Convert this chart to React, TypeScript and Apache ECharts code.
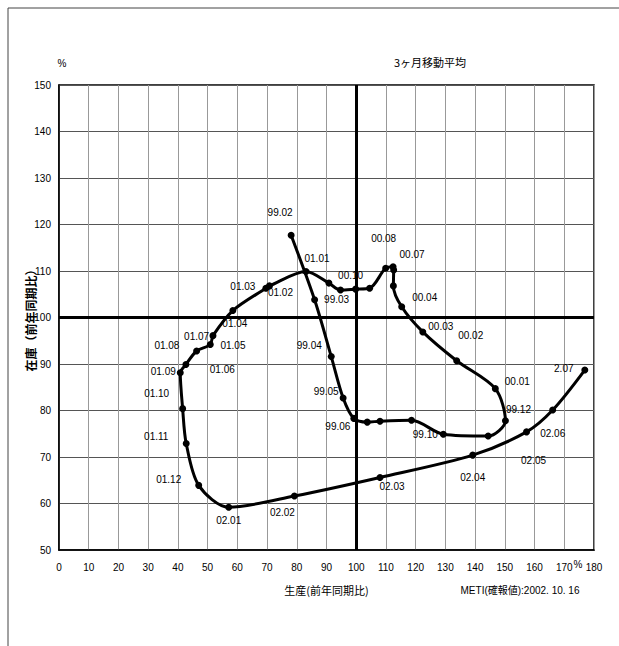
import React, { useEffect, useRef } from "react";
import * as echarts from "echarts";

// Monthly points, 3-month moving average (year.month)
const months = [
  "99.02", "99.03", "99.04", "99.05", "99.06", "99.07", "99.08", "99.09", "99.10", "99.11", "99.12",
  "00.01", "00.02", "00.03", "00.04", "00.05", "00.06", "00.07", "00.08", "00.09", "00.10", "00.11", "00.12",
  "01.01", "01.02", "01.03", "01.04", "01.05", "01.06", "01.07", "01.08", "01.09", "01.10", "01.11", "01.12",
  "02.01", "02.02", "02.03", "02.04", "02.05", "02.06", "02.07",
];

// 生産 (前年同期比, %)
const production = [
  78.1, 86.0, 91.6, 95.6, 99.2, 103.7, 108.0, 118.6, 129.3, 144.4, 150.2,
  146.8, 133.8, 122.4, 115.3, 112.5, 112.6, 112.4, 109.9, 104.5, 99.8, 94.7, 90.8,
  83.1, 70.8, 69.6, 58.5, 51.8, 50.9, 46.3, 42.7, 40.8, 41.6, 42.8, 47.0,
  57.1, 79.2, 108.0, 139.2, 157.3, 166.1, 176.9,
];

// 在庫 (前年同期比, %)
const inventory = [
  117.7, 103.8, 91.6, 82.7, 78.3, 77.5, 77.7, 77.9, 74.9, 74.5, 77.8,
  84.7, 90.7, 96.9, 102.3, 106.8, 110.2, 110.9, 110.6, 106.3, 106.1, 105.9, 107.4,
  109.9, 106.8, 106.3, 101.5, 96.1, 94.2, 92.8, 89.9, 88.1, 80.4, 72.9, 63.9,
  59.2, 61.6, 65.6, 70.4, 75.4, 80.1, 88.7,
];

// Text printed beside each point ("" = no label)
const pointLabels = [
  "99.02", "99.03", "99.04", "99.05", "99.06", "", "", "", "99.10", "", "99.12",
  "00.01", "00.02", "00.03", "00.04", "", "", "00.07", "00.08", "", "00.10", "", "",
  "01.01", "01.02", "01.03", "01.04", "01.05", "01.06", "01.07", "01.08", "01.09", "01.10", "01.11", "01.12",
  "02.01", "02.02", "02.03", "02.04", "02.05", "02.06", "2.07",
];

// Axis ranges
const xMin = 0, xMax = 180, xStep = 10;
const yMin = 50, yMax = 150, yStep = 10;
const refLevel = 100;

// Label placement (pixel offsets from the point), keyed by month
const labelOffsets: Record<string, [number, number]> = {
  "99.02": [-11, -23], "99.03": [22, 0], "99.04": [-22, -11], "99.05": [-17, -6],
  "99.06": [-16, 8], "99.10": [-18, 0], "99.12": [13, -11],
  "00.01": [22, -7], "00.02": [14, -25], "00.03": [18, -5], "00.04": [23, -9],
  "00.07": [19, -12], "00.08": [-2, -30], "00.10": [-5, -14],
  "01.01": [11, -13], "01.02": [11, 7], "01.03": [-23, -2], "01.04": [2, 13],
  "01.05": [20, 10], "01.06": [12, 25], "01.07": [0, -14], "01.08": [-19, -19],
  "01.09": [-17, -1], "01.10": [-26, -15], "01.11": [-30, -7], "01.12": [-30, -6],
  "02.01": [0, 13], "02.02": [-12, 16], "02.03": [12, 9], "02.04": [0, 22],
  "02.05": [7, 29], "02.06": [0, 23], "02.07": [-21, -2],
};

const NARROW = "'Liberation Sans', 'Noto Sans CJK JP', sans-serif";
const CJK = "'Noto Sans CJK JP', 'Liberation Sans', sans-serif";

export default function App() {
  const ref = useRef<HTMLDivElement>(null);

  useEffect(() => {
    if (!ref.current) return;
    const chart = echarts.init(ref.current, undefined, { renderer: "svg" });

    const data = months.map((m, i) => {
      const text = pointLabels[i];
      return {
        name: m,
        value: [production[i], inventory[i]],
        label: text
          ? {
              show: true,
              formatter: text,
              position: "inside",
              offset: labelOffsets[m] || [0, -12],
              color: "#000",
              fontSize: 10,
              fontFamily: NARROW,
            }
          : { show: false },
      };
    });

    chart.setOption({
      animation: false,
      backgroundColor: "#fff",
      grid: {
        left: 59,
        top: 85,
        width: 535,
        height: 465,
        show: true,
        borderColor: "#000",
        borderWidth: 1.5,
        backgroundColor: "transparent",
      },
      xAxis: {
        type: "value",
        min: xMin,
        max: xMax,
        interval: xStep,
        name: "生産(前年同期比)",
        nameLocation: "middle",
        nameGap: 34,
        nameMoveOverlap: false,
        nameTextStyle: { color: "#000", fontSize: 11, fontFamily: CJK },
        axisLine: { show: true, lineStyle: { color: "#000", width: 1.5 } },
        axisTick: { show: false },
        axisLabel: { color: "#000", fontSize: 10, fontFamily: NARROW, margin: 12 },
        splitLine: { show: true, lineStyle: { color: "#999", width: 1 } },
      },
      yAxis: {
        type: "value",
        min: yMin,
        max: yMax,
        interval: yStep,
        name: "在庫（前年同期比）",
        nameLocation: "middle",
        nameGap: 23,
        nameMoveOverlap: false,
        nameTextStyle: { color: "#000", fontSize: 12, fontWeight: "bold", fontFamily: CJK },
        axisLine: { show: true, lineStyle: { color: "#000", width: 1.5 } },
        axisTick: { show: false },
        axisLabel: { color: "#000", fontSize: 10, fontFamily: NARROW, margin: 8 },
        splitLine: { show: true, lineStyle: { color: "#555", width: 1 } },
      },
      series: [
        {
          type: "line",
          data,
          smooth: 0.3,
          symbol: "circle",
          symbolSize: 7,
          itemStyle: { color: "#000" },
          lineStyle: { color: "#000", width: 3 },
          z: 3,
          markLine: {
            silent: true,
            symbol: "none",
            label: { show: false },
            lineStyle: { color: "#000", width: 3, type: "solid" },
            data: [{ xAxis: refLevel }, { yAxis: refLevel }],
          },
        },
      ],
      graphic: [
        {
          type: "line",
          shape: { x1: 8, y1: 8, x2: 619, y2: 8 },
          style: { stroke: "#444", lineWidth: 1 },
        },
        {
          type: "line",
          shape: { x1: 8, y1: 8, x2: 8, y2: 646 },
          style: { stroke: "#444", lineWidth: 1 },
        },
        {
          type: "text",
          x: 62,
          y: 63,
          style: { text: "%", fill: "#000", fontSize: 10, fontFamily: NARROW, align: "center", verticalAlign: "middle" },
        },
        {
          type: "text",
          x: 430,
          y: 62,
          style: { text: "3ヶ月移動平均", fill: "#000", fontSize: 11, fontFamily: CJK, align: "center", verticalAlign: "middle" },
        },
        {
          type: "text",
          x: 578,
          y: 564,
          style: { text: "%", fill: "#000", fontSize: 10, fontFamily: NARROW, align: "center", verticalAlign: "middle" },
        },
        {
          type: "text",
          x: 520,
          y: 590,
          style: { text: "METI(確報値):2002. 10. 16", fill: "#000", fontSize: 10, fontFamily: NARROW, align: "center", verticalAlign: "middle" },
        },
      ],
    });

    return () => chart.dispose();
  }, []);

  return (
    <div
      ref={ref}
      style={{ position: "fixed", left: 0, top: 0, width: 619, height: 646, background: "#fff" }}
    />
  );
}
